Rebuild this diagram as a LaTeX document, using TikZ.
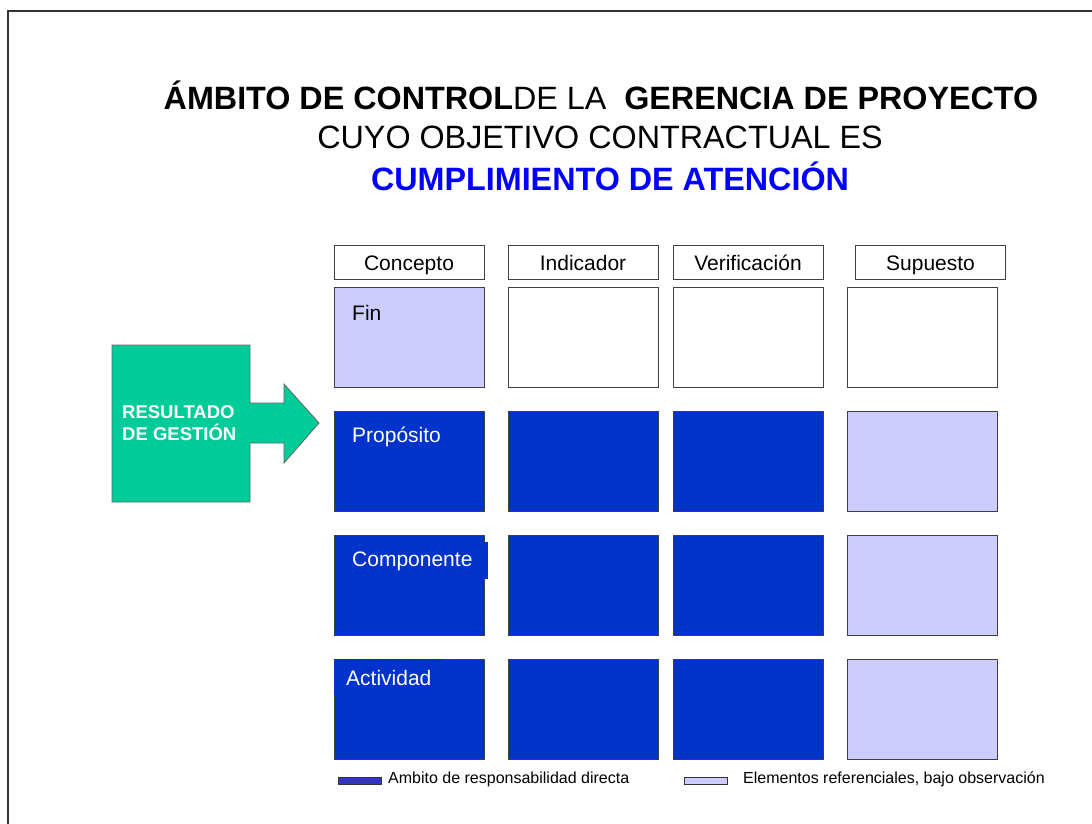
\documentclass[tikz,border=0pt]{standalone}
\usepackage{fontspec}
\setmainfont{Liberation Sans}
\definecolor{cellblue}{RGB}{0,51,204}
\definecolor{lav}{RGB}{204,204,255}
\definecolor{calloutgreen}{RGB}{0,204,153}
\definecolor{titleblue}{RGB}{0,0,255}
\definecolor{legblue}{RGB}{51,51,204}
\begin{document}
\begin{tikzpicture}[x=1pt,y=-1pt,
  cellbox/.style={draw=black!75, line width=0.9pt, minimum width=150pt, minimum height=100pt, inner sep=0pt, outer sep=0pt},
  bluecell/.style={cellbox, fill=cellblue},
  lavcell/.style={cellbox, fill=lav},
  whitecell/.style={cellbox, fill=white},
  headbox/.style={draw=black!75, line width=0.9pt, minimum width=150pt, minimum height=34pt, inner sep=0pt, text height=19pt, text depth=3pt, font=\fontsize{21}{25}\selectfont},
  rowlabel/.style={anchor=west, inner sep=0pt, font=\fontsize{21}{25}\selectfont},
  titleline/.style={inner sep=0pt, font=\fontsize{32.3}{38}\selectfont},
  legtext/.style={anchor=west, inner sep=0pt, font=\fontsize{16}{19}\selectfont},
  swatch/.style={draw=black!80, line width=0.8pt, minimum width=43pt, minimum height=7pt, inner sep=0pt}
]
\useasboundingbox (0,0) rectangle (1092,824);
\fill[white] (0,0) rectangle (1092,824);
% frame
\draw[black!80, line width=1.6pt] (8,826) -- (8,11) -- (1094,11);

% title
\node[titleline] (t1) at (601,95) {\textbf{ÁMBITO DE CONTROL}DE LA\ \ \textbf{GERENCIA DE PROYECTO}};
\node[titleline] (t2) at (600,137) {CUYO OBJETIVO CONTRACTUAL ES};
\node[titleline, text=titleblue, font=\fontsize{32.3}{38}\selectfont\bfseries] (t3) at (610,176) {CUMPLIMIENTO DE ATENCIÓN};

% headers
\node[headbox] (hc) at (409,262) {Concepto};
\node[headbox] (hi) at (583,262) {Indicador};
\node[headbox] (hv) at (748,262) {Verificación};
\node[headbox] (hs) at (930.5,262) {Supuesto};

% row 1
\node[lavcell] (c11) at (409,337) {};
\node[whitecell] (c12) at (583,337) {};
\node[whitecell] (c13) at (748,337) {};
\node[whitecell] (c14) at (922,337) {};
% row 2
\node[bluecell] (c21) at (409,461) {};
\node[bluecell] (c22) at (583,461) {};
\node[bluecell] (c23) at (748,461) {};
\node[lavcell] (c24) at (922,461) {};
% row 3
\node[bluecell] (c31) at (409,585) {};
\node[bluecell] (c32) at (583,585) {};
\node[bluecell] (c33) at (748,585) {};
\node[lavcell] (c34) at (922,585) {};
% row 4
\node[bluecell] (c41) at (409,709) {};
\node[bluecell] (c42) at (583,709) {};
\node[bluecell] (c43) at (748,709) {};
\node[lavcell] (c44) at (922,709) {};

% label text boxes
\fill[cellblue] (342,542) rectangle (488,579);
\fill[cellblue] (333.5,658.5) rectangle (445,695);

\node[rowlabel] (lfin) at (352,313) {Fin};
\node[rowlabel, text=white] (lprop) at (352,437) {Propósito};
\node[rowlabel, text=white] (lcomp) at (352,561) {Componente};
\node[rowlabel, text=white] (lact) at (346,678) {Actividad};

% callout arrow
\draw[fill=calloutgreen, draw=black!60, line width=0.8pt]
  (112,345) -- (250,345) -- (250,403) -- (284,403) -- (284,384) -- (319,423)
  -- (284,463) -- (284,443) -- (250,443) -- (250,502) -- (112,502) -- cycle;
\node[anchor=west, inner sep=0pt, align=left, text=white, font=\fontsize{18.5}{22}\selectfont\bfseries] (res) at (122,423) {RESULTADO\\DE GESTIÓN};

% legend
\node[swatch, fill=legblue] (sw1) at (359.5,780.5) {};
\node[legtext] (lg1) at (388,779) {Ambito de responsabilidad directa};
\node[swatch, fill=lav] (sw2) at (706,781) {};
\node[legtext] (lg2) at (743,779) {Elementos referenciales, bajo observación};
\end{tikzpicture}
\end{document}
